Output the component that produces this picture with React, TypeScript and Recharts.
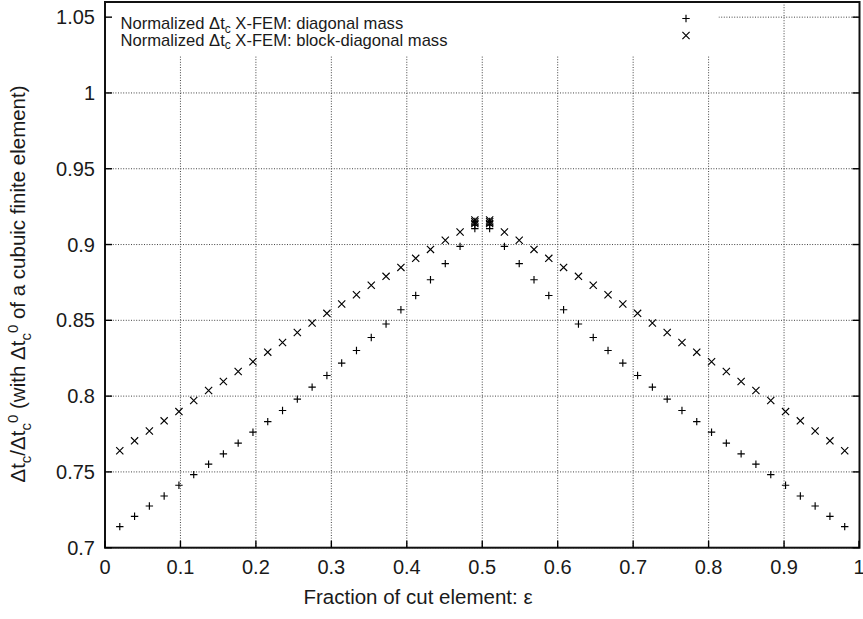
import React from 'react';
import { ScatterChart, Scatter, XAxis, YAxis, CartesianGrid } from 'recharts';

// Fraction of cut element (epsilon)
const fractionOfCut = [
  0.0196, 0.0392, 0.0588, 0.0784, 0.098, 0.1176, 0.1373, 0.1569, 0.1765, 0.1961,
  0.2157, 0.2353, 0.2549, 0.2745, 0.2941, 0.3137, 0.3333, 0.3529, 0.3725, 0.3922,
  0.4118, 0.4314, 0.451, 0.4706, 0.4902, 0.5098, 0.5294, 0.549, 0.5686, 0.5882,
  0.6078, 0.6275, 0.6471, 0.6667, 0.6863, 0.7059, 0.7255, 0.7451, 0.7647, 0.7843,
  0.8039, 0.8235, 0.8431, 0.8627, 0.8824, 0.902, 0.9216, 0.9412, 0.9608, 0.9804,
];

// Normalized dt_c, X-FEM diagonal mass (+)
const diagonalMass = [
  0.7139, 0.7207, 0.7275, 0.7341, 0.7412, 0.7482, 0.7551, 0.7619, 0.769, 0.7762,
  0.7832, 0.7905, 0.798, 0.8059, 0.8136, 0.8218, 0.8301, 0.8387, 0.8476, 0.857,
  0.8664, 0.8768, 0.8874, 0.8988, 0.9105, 0.9105, 0.8988, 0.8874, 0.8768, 0.8664,
  0.857, 0.8476, 0.8387, 0.8301, 0.8218, 0.8136, 0.8059, 0.798, 0.7905, 0.7832,
  0.7762, 0.769, 0.7619, 0.7551, 0.7482, 0.7412, 0.7341, 0.7275, 0.7207, 0.7139,
];

// Normalized dt_c, X-FEM block-diagonal mass (x)
const blockDiagonalMass = [
  0.764, 0.7705, 0.777, 0.7837, 0.7898, 0.7971, 0.8037, 0.8096, 0.8162, 0.8227,
  0.829, 0.8354, 0.842, 0.8482, 0.8546, 0.8608, 0.8669, 0.8731, 0.879, 0.8849,
  0.8909, 0.8968, 0.9028, 0.9083, 0.9138, 0.9138, 0.9083, 0.9028, 0.8968, 0.8909,
  0.8849, 0.879, 0.8731, 0.8669, 0.8608, 0.8546, 0.8482, 0.842, 0.8354, 0.829,
  0.8227, 0.8162, 0.8096, 0.8037, 0.7971, 0.7898, 0.7837, 0.777, 0.7705, 0.764,
];

// Additional samples stacked near the half-cut
const nearHalfFraction = [0.4902, 0.5098];
const diagonalNearHalf = [0.9128, 0.9152];
const blockDiagonalNearHalf = [0.915, 0.9162];

const xTicks = [0, 0.1, 0.2, 0.3, 0.4, 0.5, 0.6, 0.7, 0.8, 0.9, 1];
const yTicks = [0.7, 0.75, 0.8, 0.85, 0.9, 0.95, 1, 1.05];
const xDomain = [0, 1];
const yDomain = [0.7, 1.06];
const seriesNames = ['X-FEM: diagonal mass', 'X-FEM: block-diagonal mass'];

const diagonalData = fractionOfCut
  .map((x, i) => ({ x, y: diagonalMass[i] }))
  .concat(nearHalfFraction.flatMap((x) => diagonalNearHalf.map((y) => ({ x, y }))));
const blockData = fractionOfCut
  .map((x, i) => ({ x, y: blockDiagonalMass[i] }))
  .concat(nearHalfFraction.flatMap((x) => blockDiagonalNearHalf.map((y) => ({ x, y }))));

const FONT = '"Liberation Sans", Arial, Helvetica, sans-serif';
const INK = '#1a1a1a';
const TICK_FONT = 20;
const LABEL_FONT = 20.5;
const TICK_LEN = 7;

// chart geometry
const W = 863;
const H = 619;
const MARGIN = { top: 1, right: 2.5, bottom: 0, left: 0 };
const Y_AXIS_W = 105;
const X_AXIS_H = 71.3;
const PLOT = {
  left: MARGIN.left + Y_AXIS_W,
  top: MARGIN.top + 1,
  right: W - MARGIN.right - 1,
  bottom: H - MARGIN.bottom - X_AXIS_H,
};

const Plus = (props: any) => {
  const { cx, cy } = props;
  const r = 3.7;
  return (
    <path
      d={`M${cx - r},${cy}H${cx + r}M${cx},${cy - r}V${cy + r}`}
      stroke="#000"
      strokeWidth={1.15}
      fill="none"
    />
  );
};

const Cross = (props: any) => {
  const { cx, cy } = props;
  const r = 3.6;
  return (
    <path
      d={`M${cx - r},${cy - r}L${cx + r},${cy + r}M${cx - r},${cy + r}L${cx + r},${cy - r}`}
      stroke="#000"
      strokeWidth={1.15}
      fill="none"
    />
  );
};

const fmt = (v: number) => String(v);

const BottomTick = (props: any) => {
  const { x, y, payload } = props;
  return (
    <g>
      <path d={`M${x},${y}V${y - TICK_LEN}`} stroke="#000" strokeWidth={1.4} fill="none" />
      <text x={x} y={y + 26} textAnchor="middle" fontSize={TICK_FONT} fontFamily={FONT} fill={INK}>
        {fmt(payload.value)}
      </text>
    </g>
  );
};

const TopTick = (props: any) => {
  const { x, y } = props;
  return <path d={`M${x},${y}V${y + TICK_LEN}`} stroke="#000" strokeWidth={1.4} fill="none" />;
};

const LeftTick = (props: any) => {
  const { x, y, payload } = props;
  return (
    <g>
      <path d={`M${x},${y}H${x + TICK_LEN}`} stroke="#000" strokeWidth={1.4} fill="none" />
      <text x={x - 10} y={y + 7} textAnchor="end" fontSize={TICK_FONT} fontFamily={FONT} fill={INK}>
        {fmt(payload.value)}
      </text>
    </g>
  );
};

const RightTick = (props: any) => {
  const { x, y } = props;
  return <path d={`M${x},${y}H${x - TICK_LEN}`} stroke="#000" strokeWidth={1.4} fill="none" />;
};

const KeyRow = ({ y, label }: { y: number; label: string }) => (
  <text x={120.5} y={y} fontSize={16.6} fontFamily={FONT} fill={INK}>
    Normalized {'\u0394'}t
    <tspan dy={3.5} fontSize={12}>c</tspan>
    <tspan dy={-3.5}>{' ' + label}</tspan>
  </text>
);

const KeyAndLabels = () => (
  <g>
    <rect x={PLOT.left + 1.5} y={PLOT.top + 1.5} width={612} height={52.5} fill="#fff" />
    <rect
      x={PLOT.left}
      y={PLOT.top}
      width={PLOT.right - PLOT.left}
      height={PLOT.bottom - PLOT.top}
      fill="none"
      stroke="#111"
      strokeWidth={2}
    />
    <KeyRow y={29} label={seriesNames[0]} />
    <KeyRow y={45.5} label={seriesNames[1]} />
    <Plus cx={686} cy={18.5} />
    <Cross cx={686} cy={35.5} />
    <text x={418} y={603.5} textAnchor="middle" fontSize={LABEL_FONT} fontFamily={FONT} fill={INK}>
      Fraction of cut element: {'\u03b5'}
    </text>
    <text
      x={25}
      y={284}
      transform="rotate(-90, 25, 284)"
      textAnchor="middle"
      fontSize={LABEL_FONT}
      fontFamily={FONT}
      fill={INK}
    >
      {'\u0394'}t
      <tspan dy={5.5} fontSize={15}>c</tspan>
      <tspan dy={-5.5}>/{'\u0394'}t</tspan>
      <tspan dy={5.5} fontSize={15}>c</tspan>
      <tspan dy={-13} fontSize={15}>0</tspan>
      <tspan dy={7.5}> (with {'\u0394'}t</tspan>
      <tspan dy={5.5} fontSize={15}>c</tspan>
      <tspan dy={-13} fontSize={15}>0</tspan>
      <tspan dy={7.5}> of a cubuic finite element)</tspan>
    </text>
  </g>
);

export default function App() {
  return (
    <div style={{ position: 'absolute', left: 0, top: 0, background: '#fff' }}>
      <ScatterChart width={W} height={H} margin={MARGIN} style={{ background: '#fff' }}>
        <CartesianGrid stroke="#444" strokeDasharray="1 1.6" strokeWidth={1} />
        <KeyAndLabels />
        <XAxis
          dataKey="x"
          type="number"
          domain={xDomain}
          ticks={xTicks}
          allowDataOverflow
          height={X_AXIS_H}
          tickSize={0}
          tickMargin={0}
          tick={BottomTick}
          axisLine={false}
          tickLine={false}
        />
        <XAxis
          xAxisId="top"
          orientation="top"
          type="number"
          domain={xDomain}
          ticks={xTicks}
          allowDataOverflow
          height={1}
          tickSize={0}
          tickMargin={0}
          tick={TopTick}
          axisLine={false}
          tickLine={false}
        />
        <YAxis
          dataKey="y"
          type="number"
          domain={yDomain}
          ticks={yTicks}
          allowDataOverflow
          width={Y_AXIS_W}
          tickSize={0}
          tickMargin={0}
          tick={LeftTick}
          axisLine={false}
          tickLine={false}
        />
        <YAxis
          yAxisId="right"
          orientation="right"
          type="number"
          domain={yDomain}
          ticks={yTicks}
          allowDataOverflow
          width={1}
          tickSize={0}
          tickMargin={0}
          tick={RightTick}
          axisLine={false}
          tickLine={false}
        />
        <Scatter name={seriesNames[0]} data={diagonalData} shape={Plus} isAnimationActive={false} />
        <Scatter name={seriesNames[1]} data={blockData} shape={Cross} isAnimationActive={false} />
      </ScatterChart>
    </div>
  );
}
